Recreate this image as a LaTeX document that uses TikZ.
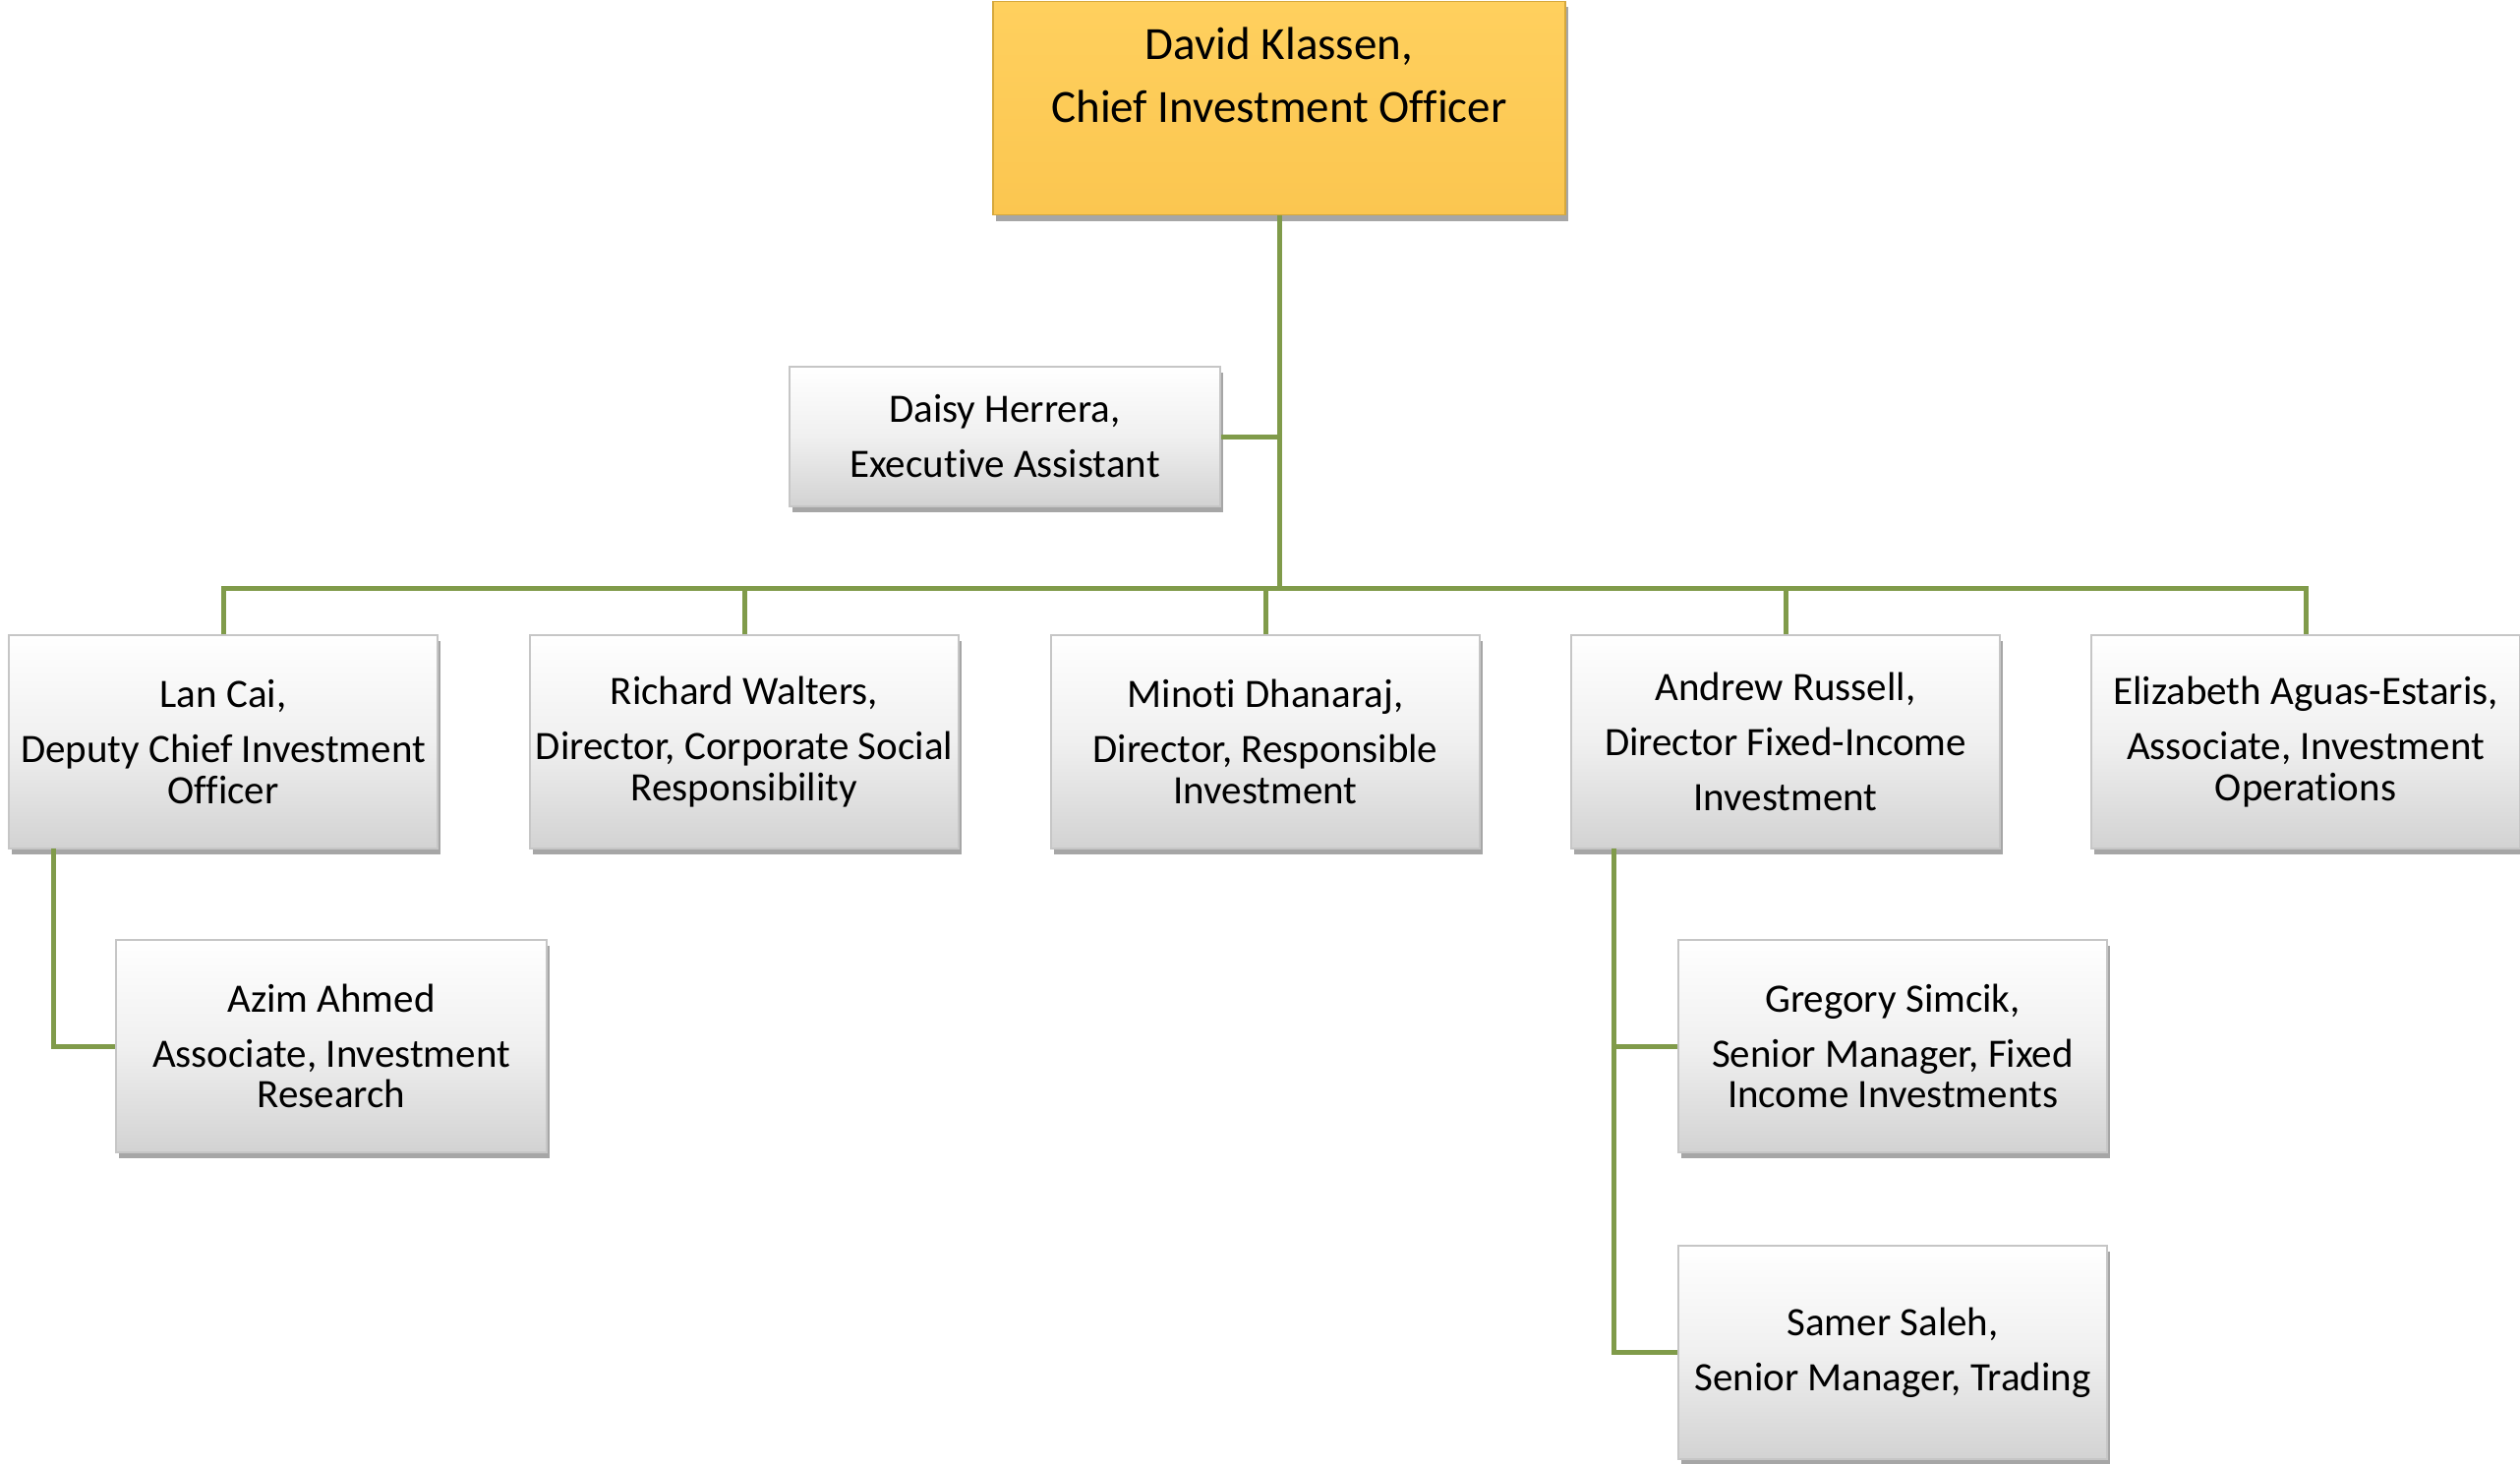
\documentclass[tikz,border=0pt]{standalone}
\usepackage{fontspec}
\setmainfont[Ligatures={NoCommon}]{Carlito}
\usetikzlibrary{shadows}
\definecolor{linegreen}{RGB}{128,155,74}
\definecolor{goldtop}{RGB}{255,208,94}
\definecolor{goldbot}{RGB}{251,198,80}
\definecolor{goldedge}{RGB}{214,168,60}
\tikzset{
  person/.style={rectangle, inner sep=0pt, align=center,
    minimum width=436pt, minimum height=217pt,
    top color=white, bottom color=gray!35, middle color=gray!12,
    draw=gray!45, line width=1.5pt,
    drop shadow={shadow xshift=3pt, shadow yshift=-6pt, opacity=0.35, fill=black},
    font=\fontsize{41}{41.5}\selectfont},
  chief/.style={person, top color=goldtop, middle color=goldtop, bottom color=goldbot, draw=goldedge,
    minimum width=582pt, font=\fontsize{47}{48}\selectfont},
  conn/.style={draw=linegreen, line width=5pt}
}
\newcommand{\pg}{\\[14.5pt]}
\begin{document}
\begin{tikzpicture}[x=1pt,y=-1pt]
\useasboundingbox (0,0) rectangle (2563,1488);
\coordinate (bus) at (1301,598);
\coordinate (lanleft) at (54,863);
\coordinate (andleft) at (1641,863);
\node[chief] (ceo) at (1301,110) {David Klassen,\\[16pt]Chief Investment Officer\\[6pt]\strut};
\node[person, minimum width=438pt, minimum height=142pt] (daisy) at (1022,444) {Daisy Herrera,\pg Executive Assistant};
\node[person] (lan) at (227,754.5) {Lan Cai,\pg Deputy Chief Investment\\ Officer};
\node[person] (richard) at (757,754.5) {Richard Walters,\pg Director, Corporate Social\\ Responsibility};
\node[person] (minoti) at (1287,754.5) {Minoti Dhanaraj,\pg Director, Responsible\\ Investment};
\node[person] (andrew) at (1816,754.5) {Andrew Russell,\pg Director Fixed-Income\pg Investment};
\node[person] (eliz) at (2345,754.5) {Elizabeth Aguas-Estaris,\pg Associate, Investment\\ Operations};
\node[person, minimum width=438pt, minimum height=216pt] (azim) at (337,1064) {Azim Ahmed\pg Associate, Investment\\ Research};
\node[person, minimum height=216pt] (greg) at (1925,1064) {Gregory Simcik,\pg Senior Manager, Fixed\\ Income Investments};
\node[person] (samer) at (1925,1375.5) {Samer Saleh,\pg Senior Manager, Trading};
\draw[conn] (ceo.south) -- (bus);
\draw[conn] (daisy.east) -- (daisy.east -| bus);
\draw[conn] (lan.north) |- (bus);
\draw[conn] (richard.north) |- (bus);
\draw[conn] (minoti.north) -- (minoti.north |- bus);
\draw[conn] (andrew.north) |- (bus);
\draw[conn] (eliz.north) |- (bus);
\draw[conn] (lanleft) |- (azim.west);
\draw[conn] (andleft) |- (greg.west);
\draw[conn] (andleft) |- (samer.west);
\end{tikzpicture}
\end{document}
